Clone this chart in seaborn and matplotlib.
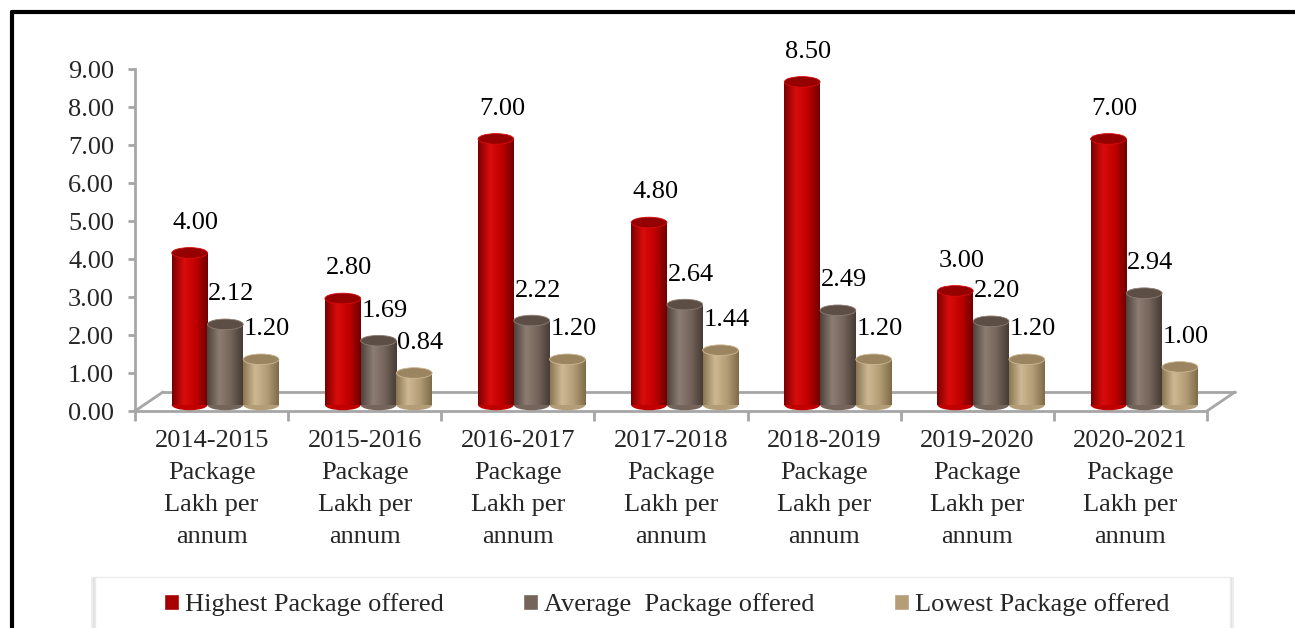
import numpy as np
import pandas as pd
import seaborn as sns
import matplotlib
matplotlib.use("Agg")
import matplotlib.pyplot as plt
from matplotlib.colors import LinearSegmentedColormap
from matplotlib.patches import Ellipse, Rectangle
from matplotlib.lines import Line2D

# data
years = ["2014-2015", "2015-2016", "2016-2017", "2017-2018", "2018-2019", "2019-2020", "2020-2021"]
series = ["Highest Package offered", "Average  Package offered", "Lowest Package offered"]
highest = [4.00, 2.80, 7.00, 4.80, 8.50, 3.00, 7.00]
average = [2.12, 1.69, 2.22, 2.64, 2.49, 2.20, 2.94]
lowest = [1.20, 0.84, 1.20, 1.44, 1.20, 1.20, 1.00]
yticks = [0, 1, 2, 3, 4, 5, 6, 7, 8, 9]

labels = [y + "\nPackage\nLakh per\nannum" for y in years]
df = pd.DataFrame({
    "year": labels * 3,
    "series": np.repeat(series, len(years)),
    "value": highest + average + lowest,
})

legend_cols = ["#A80000", "#75645A", "#B59E77"]
# (edge dark, highlight, body, edge dark) for the cylinder shading
shades = [
    ["#7A0000", "#DA0C0C", "#C00000", "#700000"],
    ["#4E423B", "#8C7C72", "#74645A", "#463B35"],
    ["#8A7652", "#CDB893", "#B39D76", "#7E6B4A"],
]
tops = ["#950000", "#5C4D45", "#9A8560"]

sns.set_theme(style="white")
plt.rcParams["font.family"] = ["Liberation Serif", "DejaVu Serif"]
fs = 19

fig = plt.figure(figsize=(12.95, 6.28), dpi=100)
ax = fig.add_axes([135 / 1295, 1 - 411 / 628, (1207 - 135) / 1295, 342 / 628])

sns.barplot(data=df, x="year", y="value", hue="series", palette=legend_cols,
            width=0.7, saturation=1, legend=False, ax=ax)

shift = 0.09   # 3d depth: bars stand in the middle of the floor
lift = 0.16
cap = 0.28
for i, p in enumerate(ax.patches):
    k = i // len(years)
    p.set_x(p.get_x() + shift)
    p.set_y(lift)
    x0, w, h = p.get_x(), p.get_width(), p.get_height()
    p.set_facecolor("none")
    p.set_edgecolor("none")
    cmap = LinearSegmentedColormap.from_list("c%d" % k, shades[k])
    grad = np.linspace(0, 1, 128).reshape(1, -1)
    im = ax.imshow(grad, cmap=cmap, extent=[x0, x0 + w, lift, lift + h], aspect="auto",
                   origin="lower", zorder=2)
    im.set_clip_path(p)
    base = Ellipse((x0 + w / 2, lift), w, cap, facecolor=shades[k][2], edgecolor="none", zorder=1.9)
    ax.add_patch(base)
    ax.add_patch(Ellipse((x0 + w / 2, lift + h), w, cap, facecolor=tops[k],
                         edgecolor=shades[k][1], linewidth=0.6, zorder=3))
    ax.text(x0 + w / 2 + 0.04, h + 0.95, "%.2f" % h, ha="center", va="center",
            fontsize=fs, color="black", zorder=4)

ax.set_xlim(-0.5, len(years) - 0.5)
ax.set_ylim(0, 9)
ax.set_yticks(yticks)
ax.set_yticklabels(["%.2f" % t for t in yticks], fontsize=fs)
ax.set_xlabel("")
ax.set_ylabel("")
ax.tick_params(axis="x", which="major", length=0, pad=14, labelsize=fs)
for t in ax.get_xticklabels():
    t.set_linespacing(1.58)
ax.set_xticks(np.arange(-0.5, len(years), 1), minor=True)
ax.tick_params(axis="x", which="minor", length=7, width=2, color="#A6A6A6", bottom=True)
ax.tick_params(axis="y", length=5, width=2, color="#A6A6A6", pad=10, left=True)

for s in ["top", "right", "bottom"]:
    ax.spines[s].set_visible(False)
ax.spines["left"].set_color("#A6A6A6")
ax.spines["left"].set_linewidth(2)

# 3d floor outline
dx, dy = 28 / 1072, 19 / 342
floor = dict(color="#A6A6A6", linewidth=2, transform=ax.transAxes, clip_on=False, zorder=1)
ax.add_line(Line2D([0, 1], [0, 0], **floor))
ax.add_line(Line2D([dx, 1 + dx], [dy, dy], **floor))
ax.add_line(Line2D([0, dx], [0, dy], **floor))
ax.add_line(Line2D([1, 1 + dx], [0, dy], **floor))

# outer frame (left and top edges visible)
fig.add_artist(Line2D([12 / 1295, 12 / 1295], [0, 1 - 12 / 628], color="black", linewidth=3))
fig.add_artist(Line2D([12 / 1295, 1], [1 - 12 / 628, 1 - 12 / 628], color="black", linewidth=3))

# legend box with a soft shadow
for off, col in [(4, "#EDEDED"), (2, "#E2E2E2")]:
    fig.add_artist(Rectangle(((95 - off) / 1295, -0.05), (1230 - 95 + 2 * off) / 1295,
                             0.05 + 1 - 577 / 628, transform=fig.transFigure,
                             facecolor=col, edgecolor="none", zorder=0.8))
fig.add_artist(Rectangle((95 / 1295, -0.05), (1230 - 95) / 1295, 0.05 + 1 - 577 / 628,
                         transform=fig.transFigure, facecolor="white", edgecolor="#EBEBEB",
                         linewidth=1, zorder=1))
handles = [Rectangle((0, 0), 1, 1, facecolor=c) for c in legend_cols]
fig.legend(handles, series, loc="center", bbox_to_anchor=(0.515, 1 - 605 / 628), ncol=3,
           frameon=False, fontsize=fs, handlelength=0.55, handleheight=0.55,
           handletextpad=0.25, columnspacing=3.0)

fig.savefig("out.png", dpi=100)
